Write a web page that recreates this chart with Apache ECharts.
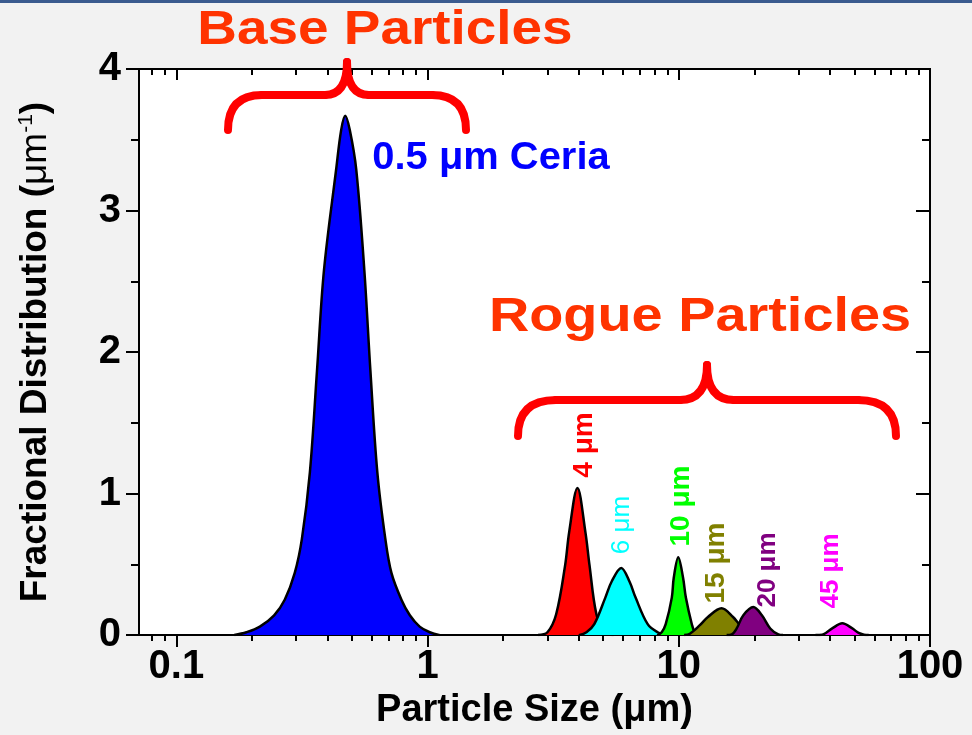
<!DOCTYPE html>
<html><head><meta charset="utf-8">
<script src="https://cdn.jsdelivr.net/npm/echarts@6/dist/echarts.min.js"></script>
<style>html,body{margin:0;padding:0;background:#f2f2f2}#c{width:972px;height:735px}</style>
</head><body><div id="c"></div>
<script>
// ---- data ----
const xMajorTicks = [0.1, 1, 10, 100];
const xMinorTicks = [0.08, 0.09, 0.2, 0.3, 0.4, 0.5, 0.6, 0.7, 0.8, 0.9, 2, 3, 4, 5, 6, 7, 8, 9, 20, 30, 40, 50, 60, 70, 80, 90];
const yRange = [0, 4];

const blueX = [0.17, 0.19, 0.215, 0.245, 0.270, 0.296, 0.316, 0.340, 0.363, 0.387, 0.4325, 0.453, 0.47, 0.49, 0.520, 0.560, 0.592, 0.631, 0.679, 0.718, 0.787, 0.85, 0.93, 1.02, 1.12];
const blueY = [0, 0.02, 0.06, 0.14, 0.25, 0.44, 0.68, 1.15, 1.87, 2.58, 3.29, 3.57, 3.67, 3.57, 3.29, 2.58, 1.87, 1.15, 0.68, 0.44, 0.25, 0.14, 0.06, 0.02, 0];

const redX = [2.75, 3.0, 3.25, 3.53, 3.66, 3.95, 4.25, 4.41, 4.70, 5.06, 5.5];
const redY = [0, 0.02, 0.147, 0.496, 0.726, 1.04, 0.726, 0.496, 0.147, 0.02, 0];

const cyanX = [4.0, 4.29, 4.61, 5.10, 5.40, 5.9, 6.37, 6.73, 7.52, 8.24, 8.9];
const cyanY = [0, 0.02, 0.077, 0.265, 0.377, 0.475, 0.377, 0.265, 0.077, 0.02, 0];

const greenX = [8.2, 8.55, 8.87, 9.38, 9.55, 9.95, 10.4, 10.67, 11.27, 11.59, 12.2];
const greenY = [0, 0.02, 0.077, 0.265, 0.405, 0.55, 0.405, 0.265, 0.077, 0.02, 0];

const oliveX = [10.5, 11.07, 12.13, 13.06, 14.8, 16.44, 17.54, 19.23, 20.5];
const oliveY = [0, 0.01, 0.07, 0.128, 0.19, 0.128, 0.07, 0.01, 0];

const purpleX = [15.5, 16.25, 17.0, 18.07, 19.8, 21.42, 23.12, 24.89, 26.0];
const purpleY = [0, 0.005, 0.047, 0.14, 0.198, 0.14, 0.047, 0.005, 0];

const magentaX = [35, 37.23, 38.5, 40.8, 44.75, 49.07, 52, 54.6, 57];
const magentaY = [0, 0.003, 0.015, 0.047, 0.083, 0.047, 0.015, 0.003, 0];

const seriesNames = ['0.5 μm', '4 μm', '6 μm', '10 μm', '15 μm', '20 μm', '45 μm'];
const seriesColors = ['#0000ff', '#ff0000', '#00ffff', '#00ff00', '#808000', '#800080', '#ff00ff'];
const seriesXs = [blueX, redX, cyanX, greenX, oliveX, purpleX, magentaX];
const seriesYs = [blueY, redY, cyanY, greenY, oliveY, purpleY, magentaY];

const titleBase = 'Base Particles';
const titleRogue = 'Rogue Particles';
const ceriaLabel = '0.5 μm Ceria';

// ---- chart ----
const FONT = '"Liberation Sans", Arial, sans-serif';
const chart = echarts.init(document.getElementById('c'), null, {renderer: 'canvas'});

const series = seriesXs.map((xs, i) => ({
  type: 'line',
  name: seriesNames[i],
  xAxisIndex: 0, yAxisIndex: 0,
  data: xs.map((x, j) => [x, seriesYs[i][j]]),
  smooth: 0.35,
  symbol: 'none',
  lineStyle: {color: '#000', width: 2.5},
  areaStyle: {color: seriesColors[i], opacity: 1, origin: 'start'},
  z: 2 + i
}));

function logAxis(pos, ticks, len, inside, main) {
  return {
    type: 'log', logBase: 10, position: pos, gridIndex: 0,
    min: 0.071, max: 100,
    axisLine: {show: !!main, lineStyle: {color: '#000', width: 2}},
    axisTick: {show: true, customValues: ticks, inside: inside, length: len, lineStyle: {color: '#000', width: 2}},
    axisLabel: main && pos === 'bottom' ? {
      show: true, customValues: xMajorTicks, formatter: v => String(v),
      color: '#000', fontFamily: FONT, fontWeight: 'bold', fontSize: 40, margin: 12
    } : {show: false},
    splitLine: {show: false},
    minorTick: {show: false},
    name: main && pos === 'bottom' ? 'Particle Size (μm)' : '',
    nameLocation: 'middle', nameGap: 52,
    nameTextStyle: {color: '#000', fontFamily: FONT, fontWeight: 'bold', fontSize: 38}
  };
}

const option = {
  backgroundColor: '#f2f2f2',
  animation: false,
  grid: {left: 139, right: 42, top: 69, bottom: 91, show: true, backgroundColor: '#ffffff', borderColor: '#000', borderWidth: 2, containLabel: false},
  xAxis: [
    logAxis('bottom', xMajorTicks, 12, false, true),
    logAxis('bottom', xMinorTicks, 6, false, false),
    logAxis('top', xMajorTicks, 11, true, true),
    logAxis('top', xMinorTicks, 6, true, false)
  ],
  yAxis: [
    {
      type: 'value', position: 'left', min: yRange[0], max: yRange[1], interval: 1,
      axisLine: {show: true, lineStyle: {color: '#000', width: 2}},
      axisTick: {show: true, inside: false, length: 13, lineStyle: {color: '#000', width: 2}},
      minorTick: {show: true, splitNumber: 2, length: 8, lineStyle: {color: '#000', width: 2}},
      splitLine: {show: false},
      axisLabel: {color: '#000', fontFamily: FONT, fontWeight: 'bold', fontSize: 40, margin: 18},
      name: '{a|Fractional Distribution (}{m|μm}{s|-1}{a|)}',
      nameLocation: 'middle', nameGap: 84, nameRotate: 90,
      nameTextStyle: {
        color: '#000', fontFamily: FONT, fontWeight: 'bold', fontSize: 37,
        rich: {
          a: {fontFamily: FONT, fontWeight: 'bold', fontSize: 37, color: '#000'},
          m: {fontFamily: FONT, fontWeight: 'normal', fontSize: 37, color: '#000'},
          s: {fontFamily: FONT, fontWeight: 'normal', fontSize: 21, color: '#000', padding: [0, 0, 18, 0]}
        }
      }
    },
    {
      type: 'value', position: 'right', min: yRange[0], max: yRange[1], interval: 1,
      axisLine: {show: true, lineStyle: {color: '#000', width: 2}},
      axisTick: {show: true, inside: true, length: 14, lineStyle: {color: '#000', width: 2}},
      minorTick: {show: true, splitNumber: 2, length: 8, lineStyle: {color: '#000', width: 2}},
      splitLine: {show: false},
      axisLabel: {show: false}
    }
  ],
  series: series,
  graphic: []
};

// braces and annotations
function brace(pts, w) {
  const st = {stroke: '#ff0000', lineWidth: w, fill: null, lineCap: 'round'};
  const [x0, y0, xl, yh, xc1, xc, yc, xc2, xr, x1] = pts;
  return [
    {type: 'bezierCurve', shape: {x1: x0, y1: y0, cpx1: x0, cpy1: yh, x2: xl, y2: yh}, style: st, z: 50},
    {type: 'line', shape: {x1: xl, y1: yh, x2: xc1, y2: yh}, style: st, z: 50},
    {type: 'bezierCurve', shape: {x1: xc1, y1: yh, cpx1: xc, cpy1: yh, x2: xc, y2: yc}, style: st, z: 50},
    {type: 'bezierCurve', shape: {x1: xc, y1: yc, cpx1: xc, cpy1: yh, x2: xc2, y2: yh}, style: st, z: 50},
    {type: 'line', shape: {x1: xc2, y1: yh, x2: xr, y2: yh}, style: st, z: 50},
    {type: 'bezierCurve', shape: {x1: xr, y1: yh, cpx1: x1, cpy1: yh, x2: x1, y2: y0}, style: st, z: 50}
  ];
}

const g = [];
g.push({type: 'rect', shape: {x: 0, y: 0, width: 972, height: 3}, style: {fill: '#3b5b8f'}, z: 50});
g.push(...brace([228, 130, 262, 95, 325, 347, 62, 369, 432, 466], 8));
g.push(...brace([518, 436, 556, 400, 680, 707, 365, 734, 858, 896], 8));
g.push({type: 'text', x: 385, y: 30, scaleX: 1.12, z: 60,
  style: {text: titleBase, fill: '#ff3300', font: 'bold 49px ' + FONT, align: 'center', verticalAlign: 'middle'}});
g.push({type: 'text', x: 700, y: 317, scaleX: 1.14, z: 60,
  style: {text: titleRogue, fill: '#ff3300', font: 'bold 49px ' + FONT, align: 'center', verticalAlign: 'middle'}});
g.push({type: 'text', x: 491, y: 159, scaleX: 1.05, z: 60,
  style: {text: ceriaLabel, fill: '#0000ff', font: 'bold 38px ' + FONT, align: 'center', verticalAlign: 'middle'}});

const peakLabelNums = ['4', '6', '10', '15', '20', '45'];
const peakLabelPos = [[584, 445, 28, 'bold'], [622, 525, 26, 'normal'], [681, 506, 28, 'bold'], [716, 563, 28, 'bold'], [768, 570, 26, 'bold'], [831, 571, 26, 'bold']];
peakLabelNums.forEach((n, i) => {
  const [x, y, fs, fw] = peakLabelPos[i];
  const col = seriesColors[i + 1];
  g.push({type: 'text', x: x, y: y, rotation: Math.PI / 2, z: 60,
    style: {
      text: n + ' μm', fill: col, font: fw + ' ' + fs + 'px ' + FONT,
      align: 'center', verticalAlign: 'middle'
    }});
});
option.graphic = g;

chart.setOption(option);
</script>
</body></html>
